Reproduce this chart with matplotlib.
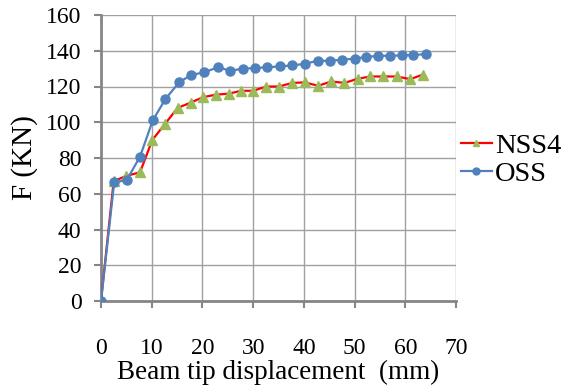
import matplotlib
matplotlib.use("Agg")
import matplotlib.pyplot as plt

nss4_x = [0, 2.5, 5, 7.7, 10.1, 12.6, 15.1, 17.7, 20.1, 22.6, 25.2, 27.6, 30, 32.6, 35.1,
          37.7, 40.2, 42.8, 45.4, 48, 50.6, 53.1, 55.7, 58.3, 61, 63.4]
nss4_y = [0, 67, 70, 72, 90, 99, 108, 111, 114, 115.4, 116, 117.6, 117.6, 120, 120,
          122, 122.3, 120.4, 122.8, 122, 124.3, 125.6, 125.6, 125.6, 124.1, 126.6]

oss_x = [0, 2.6, 5.1, 7.7, 10.2, 12.7, 15.4, 17.8, 20.4, 23, 25.5, 28, 30.4, 32.8, 35.2,
         37.7, 40.2, 42.7, 45.1, 47.6, 50, 52.3, 54.6, 56.9, 59.3, 61.6, 64]
oss_y = [0, 66.3, 67.8, 80.8, 101, 113, 122.3, 126.5, 127.9, 130.8, 128.8, 130, 130.3, 130.8, 131.2,
         131.8, 132.7, 134.4, 134.4, 135, 135.6, 136.5, 137.2, 137.2, 137.4, 137.6, 138.1]

x_ticks = [0, 10, 20, 30, 40, 50, 60, 70]
y_ticks = [0, 20, 40, 60, 80, 100, 120, 140, 160]

plt.rcParams['font.family'] = ['Liberation Serif', 'DejaVu Serif']

fig = plt.figure(figsize=(5.61, 3.92), dpi=100)
ax = fig.add_axes([101/561, 1 - 301/392, 355/561, 286/392])

ax.plot(nss4_x, nss4_y, color='#FF0000', lw=1.6, marker='^', ms=7,
        markerfacecolor='#9BBB59', markeredgecolor='#9BBB59', label='NSS4', zorder=3)
ax.plot(oss_x, oss_y, color='#4F81BD', lw=1.6, marker='o', ms=6.5,
        markerfacecolor='#4F81BD', markeredgecolor='#4F81BD', label='OSS', zorder=4)

ax.set_xlim(0, 70)
ax.set_ylim(0, 160)
ax.set_xticks(x_ticks)
ax.set_yticks(y_ticks)
ax.grid(True, color='#A0A0A0', lw=1.0)
ax.set_axisbelow(True)
for s in ['top', 'right']:
    ax.spines[s].set_visible(False)
for s in ['left', 'bottom']:
    ax.spines[s].set_color('#868686')
    ax.spines[s].set_linewidth(2)
ax.tick_params(axis='both', colors='#868686', length=5, width=1.5, labelcolor='black', labelsize=17)
ax.tick_params(axis='x', pad=22)
ax.tick_params(axis='y', pad=9)

ax.set_xlabel('Beam tip displacement  (mm)', fontsize=19.5, labelpad=0)
ax.set_ylabel('F (KN)', fontsize=21, labelpad=6)

leg = fig.legend(loc='center left', bbox_to_anchor=(455/561, 1 - 160/392), frameon=False,
                 fontsize=20.5, handlelength=1.1, handletextpad=0.1, labelspacing=0.05,
                 borderaxespad=0, borderpad=0.2)
for h in leg.legend_handles:
    h.set_markersize(5)

fig.savefig('out.png', dpi=100)
